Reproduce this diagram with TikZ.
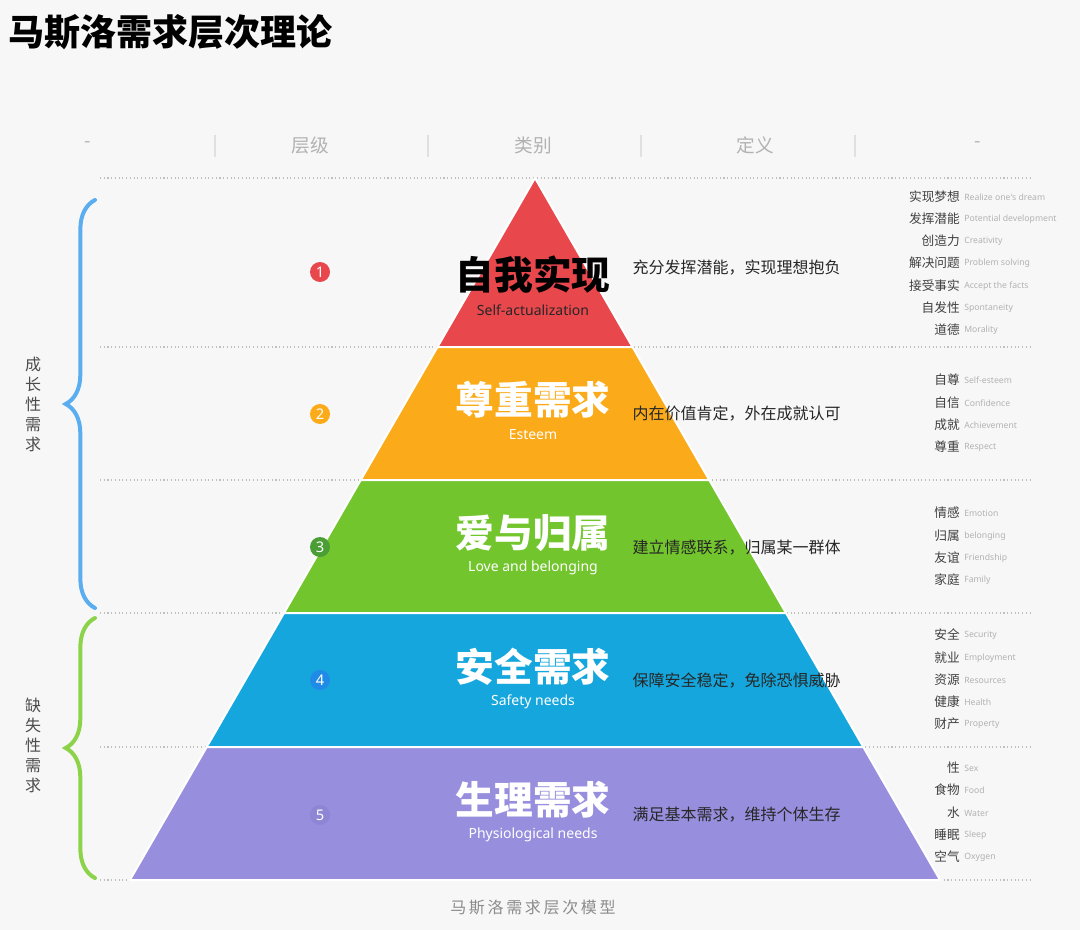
\documentclass[tikz,border=0pt]{standalone}
\usepackage{fontspec}
\setmainfont{Noto Sans CJK SC}
\newfontfamily\latinfont{Noto Sans}
\usetikzlibrary{decorations.pathreplacing}
\definecolor{bgc}{HTML}{F7F7F7}
\definecolor{lvred}{HTML}{E8474C}
\definecolor{lvorange}{HTML}{FBAB19}
\definecolor{lvgreen}{HTML}{72C52C}
\definecolor{lvblue}{HTML}{14A6DC}
\definecolor{lvpurple}{HTML}{978FDD}
\definecolor{ccgreen}{HTML}{4A9E35}
\definecolor{ccblue}{HTML}{1F8BE6}
\definecolor{ccpurple}{HTML}{8E85D4}
\definecolor{bracea}{HTML}{5AAEF0}
\definecolor{braceb}{HTML}{8CD34A}
\tikzset{
  head/.style={font=\fontsize{14}{14}\selectfont,text=black!30},
  zh/.style={font=\fontsize{29}{29}\selectfont\bfseries,text=white},
  en/.style={font=\latinfont\fontsize{10.5}{11}\selectfont,text=white},
  defn/.style={font=\fontsize{12}{12}\selectfont,text=black!85,anchor=west},
  itemzh/.style={font=\fontsize{9.5}{9.5}\selectfont,text=black!75,anchor=east,inner sep=0pt},
  itemen/.style={font=\latinfont\fontsize{6.5}{7}\selectfont,text=black!30,anchor=west,inner sep=0pt},
  numdot/.style={circle,minimum size=15pt,inner sep=0pt,font=\latinfont\fontsize{11}{11}\selectfont,text=white},
  sep/.style={black!25,dotted,line width=0.8pt},
}
\begin{document}
\begin{tikzpicture}[x=0.75pt,y=-0.75pt]
  \fill[bgc] (0,0) rectangle (1080,930);
  \useasboundingbox (0,0) rectangle (1080,930);

  %% title and header
  \node[anchor=west,font=\fontsize{27}{27}\selectfont\bfseries] (title) at (4,32) {马斯洛需求层次理论};
  \foreach \x/\t [count=\i] in {88/-,310/层级,533/类别,755/定义,978/-}
    \node[head] (h\i) at (\x,145) {\t};
  \foreach \x in {215,428,641,855}
    \draw[black!12,line width=0.8pt] (\x,135) -- (\x,157);

  %% dotted rows
  \foreach \y in {178,347,480,613,747,880}
    \draw[sep] (100,\y) -- (1030,\y);

  %% pyramid layers
  \foreach \ya/\yb/\c in {178/347/lvred,347/480/lvorange,480/613/lvgreen,613/747/lvblue,747/880/lvpurple}
    \fill[\c,draw=white,line width=1.5pt,line join=round]
      ({535-0.577*(\ya-178)},\ya) -- ({535+0.577*(\ya-178)},\ya) --
      ({535+0.577*(\yb-178)},\yb) -- ({535-0.577*(\yb-178)},\yb) -- cycle;

  %% level numbers
  \foreach \y/\c [count=\i] in {272/lvred,414/lvorange,547/ccgreen,680/ccblue,815/ccpurple}
    \node[numdot,fill=\c] (n\i) at (320,\y) {\i};

  %% layer texts
  \node[zh,text=black] (z1) at (533,275) {自我实现};
  \node[en,text=black!85] (e1) at (533,310) {Self-actualization};
  \foreach \y/\t/\e [count=\i from 2] in {400/尊重需求/Esteem,533/爱与归属/Love and belonging,667/安全需求/Safety needs,800/生理需求/Physiological needs}{
    \node[zh] (z\i) at (533,\y) {\t};
    \node[en] (e\i) at (533,\y+35) {\e};
  }
  \foreach \y/\t [count=\i] in {268/充分发挥潜能，实现理想抱负,414/内在价值肯定，外在成就认可,548/建立情感联系，归属某一群体,681/保障安全稳定，免除恐惧威胁,815/满足基本需求，维持个体生存}
    \node[defn] (d\i) at (628,\y) {\t};

  %% right lists
  \foreach \y/\a/\b [count=\i] in {
      197/实现梦想/Realize one's dream,219/发挥潜能/Potential development,
      241/创造力/Creativity,263/解决问题/Problem solving,
      286/接受事实/Accept the facts,308/自发性/Spontaneity,330/道德/Morality,
      380/自尊/Self-esteem,403/自信/Confidence,425/成就/Achievement,447/尊重/Respect,
      513/情感/Emotion,536/归属/belonging,558/友谊/Friendship,580/家庭/Family,
      635/安全/Security,658/就业/Employment,680/资源/Resources,702/健康/Health,724/财产/Property,
      768/性/Sex,790/食物/Food,813/水/Water,835/睡眠/Sleep,857/空气/Oxygen}{
    \node[itemzh] (iz\i) at (960,\y) {\a};
    \node[itemen] (ie\i) at (964,\y) {\b};
  }

  %% braces
  \coordinate (ba) at (95,200);
  \coordinate (bb) at (95,608);
  \coordinate (bc) at (95,618);
  \coordinate (bd) at (95,878);
  \draw[bracea,line width=3pt,line cap=round,decorate,decoration={brace,amplitude=22pt}] (bb) -- (ba);
  \draw[braceb,line width=3pt,line cap=round,decorate,decoration={brace,amplitude=22pt}] (bd) -- (bc);
  \node[font=\fontsize{12}{15}\selectfont,text=black!70,align=center] (ga) at (33,404) {成\\长\\性\\需\\求};
  \node[font=\fontsize{12}{15}\selectfont,text=black!70,align=center] (gb) at (33,745) {缺\\失\\性\\需\\求};

  %% caption
  \node[font=\fontsize{12}{12}\selectfont,text=black!45] (cap) at (533,908) {马\,斯\,洛\,需\,求\,层\,次\,模\,型};
\end{tikzpicture}
\end{document}
